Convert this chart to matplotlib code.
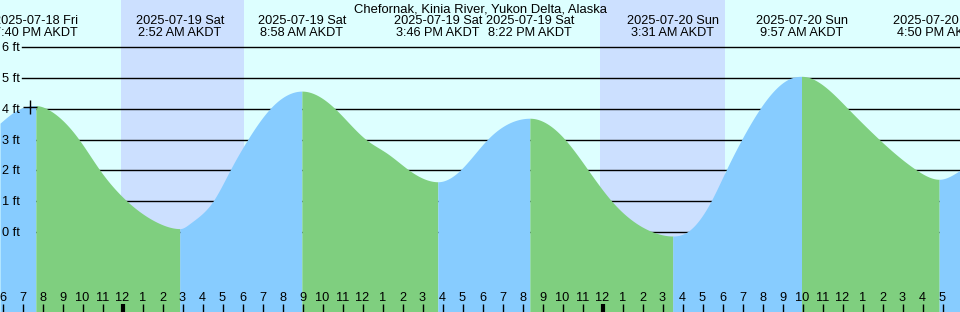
import numpy as np
import matplotlib
matplotlib.use("Agg")
import matplotlib.pyplot as plt
import matplotlib.transforms as mtransforms

plt.rcParams['font.family'] = ['Liberation Sans', 'DejaVu Sans']

title = "Chefornak, Kinia River, Yukon Delta, Alaska"

# Extremes (hours since 2025-07-18 00:00 AKDT)
event_hours = [19.667, 26.867, 32.967, 39.767, 44.367, 51.517, 57.95, 64.833]
event_heights = [4.10, 0.11, 4.57, 1.63, 3.69, -0.13, 5.05, 1.71]
event_dates = ["2025-07-18 Fri", "2025-07-19 Sat", "2025-07-19 Sat", "2025-07-19 Sat",
               "2025-07-19 Sat", "2025-07-20 Sun", "2025-07-20 Sun", "2025-07-20 Sun"]
event_times = ["7:40 PM AKDT", "2:52 AM AKDT", "8:58 AM AKDT", "3:46 PM AKDT",
               "8:22 PM AKDT", "3:31 AM AKDT", "9:57 AM AKDT", "4:50 PM AKDT"]

# Intermediate tide-curve readings between the extremes (hours, feet)
curve_hours = [17.875, 18.375, 18.875,
               20.21, 21.825, 22.875, 24.225, 25.875,
               27.375, 28.525, 29.375, 30.26, 31.375,
               34.625, 36.175, 37.21, 38.34,
               40.875, 42.24,
               46.125, 47.29, 48.46, 50.525,
               52.225, 53.425, 54.175, 54.96, 55.875, 57.46,
               58.375, 60.275, 61.84, 63.725,
               65.875]
curve_feet = [3.53, 3.80, 4.00,
              4.00, 3.00, 2.00, 1.00, 0.27,
              0.28, 1.00, 2.00, 3.00, 4.00,
              4.00, 3.00, 2.56, 2.00,
              2.00, 3.00,
              3.00, 2.00, 1.00, 0.00,
              0.00, 1.00, 2.00, 3.00, 4.00, 5.00,
              5.00, 4.00, 3.00, 2.00,
              2.00]

night_spans = [(23.9, 30.08), (47.88, 54.13)]
marker_hour, marker_feet = 19.375, 4.05
grid_feet = [0, 1, 2, 3, 4, 5, 6]
tick_hours = list(range(18, 67))

BG = "#ddffff"
NIGHT = "#cce0ff"
RISE = "#87ccff"
FALL = "#7fcf7f"


def spline(x, y, xn, left=None, right=None):
    """Cubic spline; left/right = clamped end slope, or None for natural end."""
    x = np.asarray(x, float); y = np.asarray(y, float)
    n = len(x)
    h = np.diff(x)
    A = np.zeros((n, n)); r = np.zeros(n)
    for i in range(1, n - 1):
        A[i, i - 1] = 1 / h[i - 1]
        A[i, i] = 2 * (1 / h[i - 1] + 1 / h[i])
        A[i, i + 1] = 1 / h[i]
        r[i] = 3 * ((y[i] - y[i - 1]) / h[i - 1] ** 2 + (y[i + 1] - y[i]) / h[i] ** 2)
    if left is None:
        A[0, 0] = 2 / h[0]; A[0, 1] = 1 / h[0]; r[0] = 3 * (y[1] - y[0]) / h[0] ** 2
    else:
        A[0, 0] = 1; r[0] = left
    if right is None:
        A[-1, -2] = 1 / h[-1]; A[-1, -1] = 2 / h[-1]; r[-1] = 3 * (y[-1] - y[-2]) / h[-1] ** 2
    else:
        A[-1, -1] = 1; r[-1] = right
    m = np.linalg.solve(A, r)
    idx = np.clip(np.searchsorted(x, xn) - 1, 0, n - 2)
    t = (xn - x[idx]) / h[idx]
    h00 = 2 * t**3 - 3 * t**2 + 1
    h10 = t**3 - 2 * t**2 + t
    h01 = -2 * t**3 + 3 * t**2
    h11 = t**3 - t**2
    return h00 * y[idx] + h10 * h[idx] * m[idx] + h01 * y[idx + 1] + h11 * h[idx] * m[idx + 1]


W, H = 960, 312
fig = plt.figure(figsize=(W / 100, H / 100), dpi=100)
ax = fig.add_axes([0, 0, 1, 1])
ax.set_facecolor(BG)
x0, x1 = 17.875, 17.875 + 48
y0, y1 = -2.595, 7.525
ax.set_xlim(x0, x1)
ax.set_ylim(y0, y1)
for s in ax.spines.values():
    s.set_visible(False)
ax.set_xticks([]); ax.set_yticks([])

for a, b in night_spans:
    ax.axvspan(a, b, color=NIGHT, lw=0, zorder=0.5)

for g in grid_feet:
    ax.axhline(g, xmin=22 / W, xmax=1, color="black", lw=1, zorder=1)

ch = np.array(curve_hours); cf = np.array(curve_feet)
bounds = [x0] + event_hours + [x1]
for i in range(len(bounds) - 1):
    a, b = bounds[i], bounds[i + 1]
    sel = (ch >= a - 1e-9) & (ch <= b + 1e-9)
    px = list(ch[sel]); py = list(cf[sel])
    left = right = None
    if i > 0:
        px = [a] + px; py = [event_heights[i - 1]] + py; left = 0.0
    if i < len(event_hours):
        px = px + [b]; py = py + [event_heights[i]]; right = 0.0
    t = np.linspace(a, b, 400)
    v = spline(px, py, t, left, right)
    rising = (i % 2 == 0)
    ax.fill_between(t, v, y0 - 1, color=RISE if rising else FALL, lw=0, zorder=2)

ax.plot([marker_hour], [marker_feet], marker="+", color="black", ms=10, mew=1, zorder=4)

bt = mtransforms.blended_transform_factory(ax.transData, ax.transAxes)
fs = 9.2
for hr in tick_hours:
    lw = 3 if hr % 24 == 0 else 1
    ax.plot([hr, hr], [0, 8 / H], color="black", lw=lw, transform=bt, zorder=5,
            solid_capstyle="butt", clip_on=False)
    lab = str((hr - 1) % 12 + 1)
    ax.text(hr, 1 - 301 / H, lab, transform=bt, ha="center", va="baseline",
            fontsize=fs, zorder=6)

for g in grid_feet:
    ypx = H - (g - y0) / (y1 - y0) * H
    fig.text(2 / W, 1 - (ypx + 4) / H, f"{g} ft", ha="left", va="baseline", fontsize=fs)

fig.text(0.5, 1 - 12 / H, title, ha="center", va="baseline", fontsize=9.4)
for hr, dt, tm in zip(event_hours, event_dates, event_times):
    ax.text(hr, 1 - 24 / H, dt, transform=bt, ha="center", va="baseline", fontsize=fs,
            clip_on=False, zorder=6)
    ax.text(hr, 1 - 36 / H, tm, transform=bt, ha="center", va="baseline", fontsize=fs,
            clip_on=False, zorder=6)

fig.savefig("out.png", dpi=100)
